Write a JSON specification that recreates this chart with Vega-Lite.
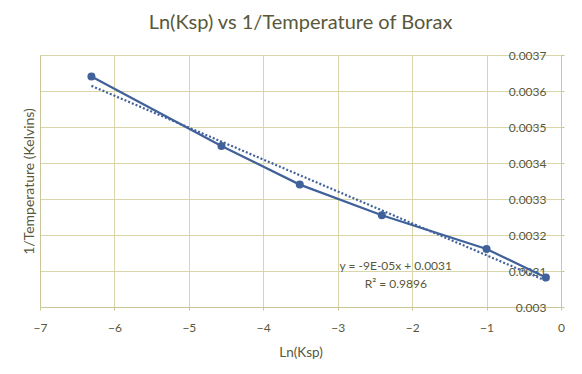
{
  "$schema": "https://vega.github.io/schema/vega-lite/v6.json",
  "width": 521,
  "height": 252,
  "autosize": {"type": "none"},
  "padding": {"left": 40, "top": 55, "right": 21, "bottom": 67},
  "background": "white",
  "title": {
    "text": "Ln(Ksp) vs 1/Temperature of Borax",
    "font": "Lato",
    "fontSize": 20,
    "fontWeight": "normal",
    "color": "#59583a",
    "anchor": "middle",
    "offset": 16
  },
  "config": {
    "view": {"stroke": null},
    "axis": {
      "labelFont": "Lato",
      "titleFont": "Lato",
      "labelColor": "#59583a",
      "titleColor": "#59583a",
      "labelFontSize": 12,
      "titleFontWeight": "normal",
      "gridColor": "#d9d7aa",
      "gridOpacity": 1,
      "domainColor": "#c9c69a",
      "tickColor": "#c9c69a"
    }
  },
  "datasets": {
    "pts": [
      {"lnKsp": -6.309, "invT": 0.00364},
      {"lnKsp": -4.562, "invT": 0.003447},
      {"lnKsp": -3.51, "invT": 0.00334},
      {"lnKsp": -2.407, "invT": 0.003255},
      {"lnKsp": -1.0, "invT": 0.003161},
      {"lnKsp": -0.203, "invT": 0.003082}
    ],
    "eq": [
      {"lnKsp": -2.22, "invT": 0.003115, "label": "y = -9E-05x + 0.0031"},
      {"lnKsp": -2.22, "invT": 0.003065, "label": "R² = 0.9896"}
    ]
  },
  "encoding": {
    "x": {
      "field": "lnKsp",
      "type": "quantitative",
      "scale": {"domain": [-7, 0], "nice": false},
      "axis": {
        "values": [-7, -6, -5, -4, -3, -2, -1, 0],
        "format": "d",
        "title": "Ln(Ksp)",
        "grid": true,
        "ticks": true,
        "tickSize": 3,
        "labelPadding": 12,
        "titlePadding": 12,
        "labelFlush": false,
        "labelOverlap": false,
        "titleFontSize": 13.5
      }
    },
    "y": {
      "field": "invT",
      "type": "quantitative",
      "scale": {"domain": [0.003, 0.0037], "nice": false, "zero": false},
      "axis": null
    }
  },
  "resolve": {"axis": {"y": "independent"}},
  "layer": [
    {
      "data": {"name": "pts"},
      "mark": {"type": "line", "color": "#41619a", "strokeWidth": 2.25},
      "encoding": {
        "y": {
          "field": "invT",
          "type": "quantitative",
          "scale": {"domain": [0.003, 0.0037], "nice": false, "zero": false},
          "axis": {
            "orient": "left",
            "values": [0.003, 0.0031, 0.0032, 0.0033, 0.0034, 0.0035, 0.0036, 0.0037],
            "labels": false,
            "ticks": false,
            "grid": true,
            "gridColor": "#d9d7aa",
            "gridOpacity": 1,
            "title": "1/Temperature (Kelvins)",
            "titlePadding": 4,
            "titleFontSize": 14
          }
        }
      }
    },
    {
      "data": {"name": "pts"},
      "transform": [{"regression": "invT", "on": "lnKsp"}],
      "mark": {"type": "line", "color": "#41619a", "strokeWidth": 2.2, "strokeDash": [2, 2], "strokeCap": "butt"}
    },
    {
      "data": {"name": "pts"},
      "mark": {"type": "circle", "color": "#41619a", "size": 64, "opacity": 1},
      "encoding": {
        "y": {
          "field": "invT",
          "type": "quantitative",
          "scale": {"domain": [0.003, 0.0037], "nice": false, "zero": false},
          "axis": {
            "orient": "right",
            "values": [0.003, 0.0031, 0.0032, 0.0033, 0.0034, 0.0035, 0.0036, 0.0037],
            "format": ".4~f",
            "grid": false,
            "ticks": true,
            "tickSize": 3,
            "labelAlign": "right",
            "labelPadding": -18,
            "labelOverlap": false,
            "labelColor": "#59583a",
            "title": null
          }
        }
      }
    },
    {
      "data": {"name": "eq"},
      "mark": {"type": "text", "font": "Lato", "fontSize": 12, "color": "#59583a", "align": "center", "baseline": "middle"},
      "encoding": {
        "text": {"field": "label"}
      }
    }
  ]
}
